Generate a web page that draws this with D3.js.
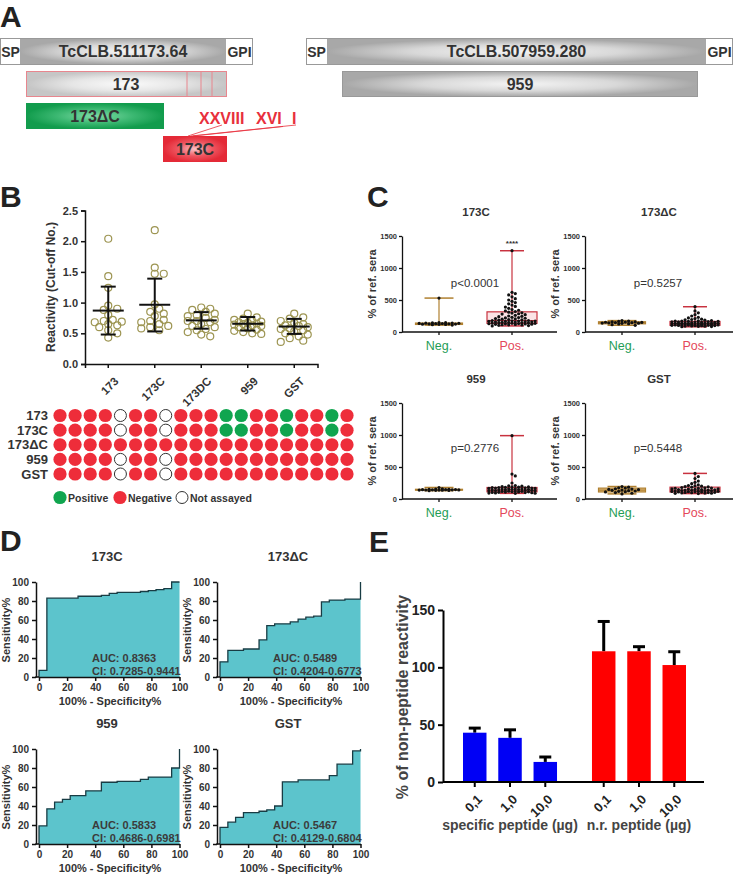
<!DOCTYPE html>
<html><head><meta charset="utf-8">
<script src="https://cdn.jsdelivr.net/npm/d3@7"></script>
<style>body{margin:0;background:#fff}svg{display:block}text{font-family:"Liberation Sans",Arial,Helvetica,sans-serif}</style>
</head><body><svg id="c" width="733" height="874"></svg>
<script>
// ---------------- DATA ----------------
// Panel A
const aProteinNames = ["TcCLB.511173.64", "TcCLB.507959.280"];
const aEnds = ["SP", "GPI"];
const aFragments = ["173", "173ΔC", "173C", "959"];
const aPeptides = ["XXVIII", "XVI", "I"];
// Panel B scatter
const bCategories = ["173", "173C", "173DC", "959", "GST"];
const bValues173 = [2.04, 1.43, 1.24, 0.95, 0.90, 0.88, 0.80, 0.72, 0.70, 0.69, 0.68, 0.65, 0.63, 0.60, 0.55, 0.50, 0.43];
const bValues173C = [2.18, 1.57, 1.47, 1.47, 0.97, 0.90, 0.85, 0.82, 0.78, 0.72, 0.70, 0.68, 0.65, 0.62, 0.60, 0.58, 0.55];
const bValues173DC = [0.92, 0.90, 0.88, 0.85, 0.82, 0.80, 0.78, 0.75, 0.72, 0.70, 0.70, 0.68, 0.65, 0.62, 0.60, 0.57, 0.55, 0.52, 0.48, 0.45];
const bValues959 = [0.82, 0.76, 0.74, 0.72, 0.70, 0.69, 0.68, 0.67, 0.66, 0.65, 0.64, 0.63, 0.62, 0.60, 0.58, 0.56, 0.54, 0.52, 0.50, 0.49];
const bValuesGST = [0.82, 0.76, 0.74, 0.70, 0.67, 0.65, 0.63, 0.62, 0.60, 0.58, 0.57, 0.55, 0.53, 0.50, 0.48, 0.45, 0.42, 0.38, 0.36];
const bMean = [0.87, 0.965, 0.71, 0.655, 0.61];
const bSdHigh = [1.26, 1.39, 0.845, 0.765, 0.735];
const bSdLow = [0.48, 0.53, 0.575, 0.545, 0.49];
const bYTicks = [0, 0.5, 1.0, 1.5, 2.0, 2.5];
// Panel B matrix (P positive, N negative, X not assayed)
const bMatrixRows = ["173", "173C", "173ΔC", "959", "GST"];
const bMatrix = [
  "NNNNXNNXNNNPPNNPNNPN",
  "NNNNXNNXNNNPPNNPNNPN",
  "NNNNNNNNNNNNNNNNNNNN",
  "NNNNXNNXNNNNNNNNNNNN",
  "NNNNXNNXNNNNNNNNNNNN"
];
const bLegend = ["Positive", "Negative", "Not assayed"];
// Panel C
const cTitles = ["173C", "173ΔC", "959", "GST"];
const cPText = ["p<0.0001", "p=0.5257", "p=0.2776", "p=0.5448"];
const cGroups = ["Neg.", "Pos."];
const cYTicks = [0, 500, 1000, 1500];
const cNeg173C = [530,148,145,142,140,138,136,134,132,130,128,126,124,122,120,118,115,108];
const cPos173C = [1270,620,600,580,550,520,500,480,460,440,420,400,390,370,350,340,330,320,310,300,295,285,280,270,260,250,245,240,230,225,220,215,210,205,200,195,190,185,180,178,175,172,170,168,165,162,160,158,155,152,150,148,145,142,140,138,135,132,130,128,125,122,120,118,115,112,110,105,100,95];
const cNeg173DC = [178,170,165,160,158,155,152,150,148,145,142,140,138,135,130,125,115,105];
const cPos173DC = [395,330,300,270,250,230,220,210,200,195,190,185,180,175,172,170,168,165,162,160,158,155,152,150,148,145,142,140,140,138,135,135,132,130,130,128,125,125,122,120,120,118,115,115,112,110,110,108,105,105,102,100,100,98,95,92,90,88,85,82];
const cNeg959 = [180,160,155,152,150,148,146,145,144,143,142,141,140,139,138,136,134,130];
const cPos959 = [990,390,360,250,210,205,200,195,190,188,185,182,180,178,175,172,170,168,165,162,160,158,155,152,150,148,145,142,140,138,135,132,130,128,125,122,120,118,115,112,110,108,105,102,100,98,95,92,90,88];
const cNegGST = [195,185,175,170,160,155,150,145,140,135,130,125,120,115,110,100,90,80];
const cPosGST = [400,350,320,280,260,240,220,210,205,200,195,190,185,180,175,170,168,165,160,158,155,150,148,145,142,140,138,135,132,130,128,125,122,120,118,115,112,110,108,105,102,100,98,95,92,90,88,85];
// box stats: [min, q1, median, q3, max]
const cNegBox = [[108,118,128,140,530],[105,128,145,160,178],[130,138,143,152,180],[80,110,140,170,195]];
const cPosBox = [[95,135,180,315,1270],[82,105,130,165,395],[88,112,140,180,990],[85,110,140,185,400]];
// Panel D ROC curves [100-specificity, sensitivity]
const dTitles = ["173C", "173ΔC", "959", "GST"];
const dAUC = ["AUC: 0.8363", "AUC: 0.5489", "AUC: 0.5833", "AUC: 0.5467"];
const dCI = ["CI: 0.7285-0.9441", "CI: 0.4204-0.6773", "CI: 0.4686-0.6981", "CI: 0.4129-0.6804"];
const dRoc173C = [[0,0],[0,7],[5.6,7],[5.6,83],[27.8,83],[27.8,85],[44.4,85],[44.4,86],[50,86],[50,88],[55.6,88],[55.6,89],[72.2,89],[72.2,90],[77.8,90],[77.8,91],[83.3,91],[83.3,92],[88.9,92],[88.9,93],[94.4,93],[94.4,100],[100,100]];
const dRoc173DC = [[0,0],[0,16],[5.6,16],[5.6,28],[16.7,28],[16.7,29.5],[27.8,29.5],[27.8,39],[33.3,39],[33.3,54],[38.9,54],[38.9,56],[50,56],[50,58],[55.6,58],[55.6,61],[61.1,61],[61.1,63],[66.7,63],[66.7,64],[72.2,64],[72.2,79],[77.8,79],[77.8,81],[88.9,81],[88.9,82],[100,82],[100,100]];
const dRoc959 = [[0,0],[0,19],[5.6,19],[5.6,37],[11.1,37],[11.1,44],[16.7,44],[16.7,47],[22.2,47],[22.2,51],[33.3,51],[33.3,56],[44.4,56],[44.4,65],[55.6,65],[55.6,66],[72.2,66],[72.2,68],[77.8,68],[77.8,70.5],[94.4,70.5],[94.4,80],[100,80],[100,100]];
const dRocGST = [[0,0],[0,17.5],[5.6,17.5],[5.6,23],[11.1,23],[11.1,28],[16.7,28],[16.7,33],[27.8,33],[27.8,34.5],[33.3,34.5],[33.3,36],[38.9,36],[38.9,40],[44.4,40],[44.4,65.5],[55.6,65.5],[55.6,67.5],[77.8,67.5],[77.8,72],[83.3,72],[83.3,84],[94.4,84],[94.4,98],[100,98],[100,100]];
const dTicks = [0, 20, 40, 60, 80, 100];
// Panel E
const eGroups = ["specific peptide (µg)", "n.r. peptide (µg)"];
const eDoses = ["0,1", "1,0", "10,0"];
const eSpecific = [43, 38.5, 17.5];
const eSpecificErr = [4, 7, 4.3];
const eNR = [114, 114, 102];
const eNRErr = [26, 4, 11.6];
const eYTicks = [0, 50, 100, 150];

// ---------------- DRAW ----------------
const svg = d3.select("#c");
svg.append("rect").attr("width", 733).attr("height", 874).attr("fill", "#fff");
const defs = svg.append("defs");
function radial(id, c0, c1, mid) {
  const g = defs.append("radialGradient").attr("id", id).attr("cx", "50%").attr("cy", "50%").attr("r", "50%");
  g.append("stop").attr("offset", "0%").attr("stop-color", c0);
  if (mid) g.append("stop").attr("offset", "55%").attr("stop-color", mid);
  g.append("stop").attr("offset", "100%").attr("stop-color", c1);
}
radial("gGray", "#f4f4f4", "#a8a8a8", "#d8d8d8");
radial("gLight", "#fafafa", "#c6c6c6", "#e6e6e6");
radial("gGreen", "#7fdba6", "#129c4d", "#3cb872");
radial("gRed", "#fbc4c8", "#e42a37", "#ee5560");
const DARK = "#333";

function label(g, x, y, txt, size, opts = {}) {
  return g.append("text").attr("x", x).attr("y", y).text(txt)
    .attr("font-size", size).attr("font-weight", opts.weight || "bold")
    .attr("fill", opts.fill || DARK).attr("text-anchor", opts.anchor || "middle")
    .attr("dominant-baseline", opts.base || "central");
}
function panelLetter(x, y, t) {
  svg.append("text").attr("x", x).attr("y", y).text(t).attr("font-size", 30)
    .attr("font-weight", "bold").attr("fill", "#222");
}
function swarm(values, yScale, r, cx, step, maxOff, overlap) {
  const pts = values.map(v => ({ v, y: yScale(v) })).sort((a, b) => a.y - b.y);
  const placed = [];
  const minD2 = (2 * r * overlap) ** 2;
  const nMax = Math.floor(maxOff / step);
  for (const p of pts) {
    let best = cx, bestD = -1;
    for (let k = 0; k <= 2 * nMax; k++) {
      const off = k === 0 ? 0 : Math.ceil(k / 2) * (k % 2 ? 1 : -1) * step;
      const x = cx + off;
      let md = Infinity;
      for (const q of placed) { const d = (q.x - x) ** 2 + (q.y - p.y) ** 2; if (d < md) md = d; }
      if (md >= minD2) { best = x; break; }
      if (md > bestD) { bestD = md; best = x; }
    }
    p.x = best; placed.push(p);
  }
  return placed;
}

// ===== Panel A =====
panelLetter(0, 27, "A");
const gA = svg.append("g");
function protein(x0, x1, spW, gpiW, name) {
  gA.append("rect").attr("x", x0 + 0.5).attr("y", 38.5).attr("width", x1 - x0 - 1).attr("height", 26)
    .attr("fill", "#fff").attr("stroke", "#999").attr("stroke-width", 1);
  gA.append("rect").attr("x", x0 + spW).attr("y", 39).attr("width", x1 - x0 - spW - gpiW).attr("height", 25).attr("fill", "url(#gGray)");
  label(gA, x0 + 10.5, 51.5, aEnds[0], 14);
  label(gA, x1 - gpiW / 2, 51.5, aEnds[1], 14);
  label(gA, (x0 + spW + x1 - gpiW) / 2, 51.5, name, 16);
}
protein(0, 253, 20, 27, aProteinNames[0]);
protein(306, 733, 21, 27, aProteinNames[1]);
gA.append("rect").attr("x", 26.5).attr("y", 71.5).attr("width", 200).attr("height", 25)
  .attr("fill", "url(#gLight)").attr("stroke", "#e8868e").attr("stroke-width", 1);
[187, 201, 212].forEach(x => gA.append("line").attr("x1", x).attr("x2", x).attr("y1", 72).attr("y2", 96).attr("stroke", "#e8868e"));
label(gA, 126, 84, aFragments[0], 16);
gA.append("rect").attr("x", 26).attr("y", 103).attr("width", 138).attr("height", 26).attr("fill", "url(#gGreen)");
label(gA, 95, 116, aFragments[1], 16);
gA.append("rect").attr("x", 163).attr("y", 136).attr("width", 64).attr("height", 26).attr("fill", "url(#gRed)");
label(gA, 195, 149, aFragments[2], 16);
gA.append("rect").attr("x", 342.5).attr("y", 71.5).attr("width", 355).attr("height", 25)
  .attr("fill", "url(#gGray)").attr("stroke", "#999").attr("stroke-width", 1);
label(gA, 520, 84, aFragments[3], 16);
[199, 256, 292].forEach((x, i) => gA.append("text").attr("x", x).attr("y", 124).attr("font-size", 16)
  .attr("font-weight", "bold").attr("fill", "#e8303c").text(aPeptides[i]));
[[222, 125, 188, 136], [296, 125, 191, 136], [283, 126.5, 193, 136]].forEach(d =>
  gA.append("line").attr("x1", d[0]).attr("y1", d[1]).attr("x2", d[2]).attr("y2", d[3]).attr("stroke", "#e8303c").attr("stroke-width", 0.8));

// ===== Panel B =====
panelLetter(0, 207, "B");
const gB = svg.append("g");
const bY = d3.scaleLinear().domain([0, 2.5]).range([364, 210.5]);
const bX = d3.scaleBand().domain(bCategories).range([85, 317.5]);
gB.append("g").attr("transform", "translate(85,0)")
  .call(d3.axisLeft(bY).tickValues(bYTicks).tickFormat(d3.format(".1f")).tickSizeOuter(0).tickSize(4))
  .call(g => { g.selectAll("text").attr("font-size", 11).attr("font-weight", "bold").attr("fill", DARK); g.selectAll("line,path").attr("stroke", "#111").attr("stroke-width", 1.5); });
gB.append("g").attr("transform", "translate(0,364)")
  .call(d3.axisBottom(bX).tickSizeOuter(0).tickSize(4))
  .call(g => { g.selectAll("line,path").attr("stroke", "#111").attr("stroke-width", 1.5);
    g.selectAll("text").attr("font-size", 11.5).attr("font-weight", "bold").attr("fill", DARK)
      .attr("text-anchor", "end").attr("dy", 0).attr("transform", "translate(6,13) rotate(-45)"); });
gB.append("text").attr("transform", "translate(51,287) rotate(-90)").text("Reactivity (Cut-off No.)")
  .attr("font-size", 12).attr("font-weight", "bold").attr("fill", DARK).attr("text-anchor", "middle").attr("dominant-baseline", "central");
const bAll = [bValues173, bValues173C, bValues173DC, bValues959, bValuesGST];
bCategories.forEach((c, i) => {
  const cx = bX(c) + bX.bandwidth() / 2;
  swarm(bAll[i], bY, 3.6, cx, 4.5, 14, 0.85).forEach(p =>
    gB.append("circle").attr("cx", p.x).attr("cy", p.y).attr("r", 3.5).attr("fill", "none").attr("stroke", "#9d9552").attr("stroke-width", 1.2));
  const eb = gB.append("g").attr("stroke", "#111").attr("stroke-width", 2);
  eb.append("line").attr("x1", cx).attr("x2", cx).attr("y1", bY(bSdLow[i])).attr("y2", bY(bSdHigh[i]));
  eb.append("line").attr("x1", cx - 15.5).attr("x2", cx + 15.5).attr("y1", bY(bMean[i])).attr("y2", bY(bMean[i]));
  [bSdLow[i], bSdHigh[i]].forEach(v => eb.append("line").attr("x1", cx - 7.5).attr("x2", cx + 7.5).attr("y1", bY(v)).attr("y2", bY(v)));
});
const mX = d3.scaleLinear().domain([0, 19]).range([60, 347]);
const mY = d3.scaleLinear().domain([0, 4]).range([415.5, 474]);
const mColor = { P: "#10a54f", N: "#ee2d3a" };
bMatrix.forEach((row, r) => {
  label(gB, 48, mY(r), bMatrixRows[r], 13, { anchor: "end" });
  row.split("").forEach((s, c) => {
    gB.append("circle").attr("cx", mX(c)).attr("cy", mY(r)).attr("r", s === "X" ? 6 : 6.6)
      .attr("fill", s === "X" ? "#fff" : mColor[s]).attr("stroke", s === "X" ? "#333" : "none").attr("stroke-width", 1);
  });
});
[[60, "P"], [120, "N"], [182, "X"]].forEach((d, i) => {
  gB.append("circle").attr("cx", d[0]).attr("cy", 497.5).attr("r", d[1] === "X" ? 6 : 6.6)
    .attr("fill", d[1] === "X" ? "#fff" : mColor[d[1]]).attr("stroke", d[1] === "X" ? "#333" : "none");
  label(gB, d[0] + 8, 498, bLegend[i], 10.5, { anchor: "start" });
});

// ===== Panel C =====
panelLetter(367, 207, "C");
const cNegAll = [cNeg173C, cNeg173DC, cNeg959, cNegGST];
const cPosAll = [cPos173C, cPos173DC, cPos959, cPosGST];
const cOrigins = [[402, 332], [585, 332], [402, 499], [585, 499]];
cTitles.forEach((t, i) => {
  const [ax, ay] = cOrigins[i];
  const g = svg.append("g");
  const y = d3.scaleLinear().domain([0, 1500]).range([ay, ay - 96]);
  const x = d3.scalePoint().domain(cGroups).range([ax + 37, ax + 110]);
  label(g, ax + 74, ay - 120, t, 11.5);
  g.append("g").attr("transform", `translate(${ax},0)`)
    .call(d3.axisLeft(y).tickValues(cYTicks).tickFormat(d3.format("d")).tickSize(3).tickSizeOuter(0))
    .call(a => { a.selectAll("text").attr("font-size", 7.5).attr("font-weight", "bold").attr("fill", DARK).attr("dx", 1);
      a.selectAll("line,path").attr("stroke", "#111").attr("stroke-width", 1.3); });
  g.append("line").attr("x1", ax).attr("x2", Math.min(ax + 155, 733)).attr("y1", ay).attr("y2", ay).attr("stroke", "#111").attr("stroke-width", 1.3);
  cGroups.forEach(gr => g.append("line").attr("x1", x(gr)).attr("x2", x(gr)).attr("y1", ay).attr("y2", ay + 3).attr("stroke", "#111").attr("stroke-width", 1.3));
  label(g, x("Neg."), ay + 14, "Neg.", 12.5, { weight: "normal", fill: "#1f9d57" });
  label(g, x("Pos."), ay + 14, "Pos.", 12.5, { weight: "normal", fill: "#e4485a" });
  g.append("text").attr("transform", `translate(${ax - 30},${ay - 48}) rotate(-90)`).text("% of ref. sera")
    .attr("font-size", 11).attr("font-weight", "bold").attr("fill", DARK).attr("text-anchor", "middle").attr("dominant-baseline", "central");
  label(g, ax + 73, y(i < 2 ? 770 : 800), cPText[i], 11.5, { weight: "normal" });
  const boxes = [[cNegBox[i], x("Neg."), 47, 29, "#e0bd80", "#b08030"], [cPosBox[i], x("Pos."), 50, 24, "#fbe3e5", "#c8323f"]];
  boxes.forEach(([b, cx, bw, cw, fill, stroke]) => {
    g.append("line").attr("x1", cx).attr("x2", cx).attr("y1", y(b[0])).attr("y2", y(b[4])).attr("stroke", stroke).attr("stroke-width", 1.2);
    [b[0], b[4]].forEach(v => g.append("line").attr("x1", cx - cw / 2).attr("x2", cx + cw / 2).attr("y1", y(v)).attr("y2", y(v)).attr("stroke", stroke).attr("stroke-width", 1.5));
    g.append("rect").attr("x", cx - bw / 2).attr("y", y(b[3])).attr("width", bw).attr("height", y(b[1]) - y(b[3]))
      .attr("fill", fill).attr("stroke", stroke).attr("stroke-width", 1.2);
    g.append("line").attr("x1", cx - bw / 2).attr("x2", cx + bw / 2).attr("y1", y(b[2])).attr("y2", y(b[2])).attr("stroke", stroke).attr("stroke-width", 1.2);
  });
  [[cNegAll[i], x("Neg."), 23], [cPosAll[i], x("Pos."), 25]].forEach(([vals, cx, mo]) =>
    swarm(vals, y, 1.7, cx, 3.3, mo, 1).forEach(p => g.append("circle").attr("cx", p.x).attr("cy", p.y).attr("r", 1.6).attr("fill", "#111")));
  if (i === 0) label(g, x("Pos."), y(cPosBox[0][4]) - 7, "****", 8, { weight: "bold" });
});

// ===== Panel D =====
panelLetter(0, 551, "D");
const dRocs = [dRoc173C, dRoc173DC, dRoc959, dRocGST];
const dOrigins = [[39, 677], [220, 677], [39, 844], [220, 844]];
dTitles.forEach((t, i) => {
  const [ox, oy] = dOrigins[i];
  const g = svg.append("g");
  const x = d3.scaleLinear().domain([0, 100]).range([ox, ox + 140.5]);
  const y = d3.scaleLinear().domain([0, 100]).range([oy, oy - 95]);
  label(g, ox + 68, oy - 121, t, 13);
  const area = d3.area().x(d => x(d[0])).y0(y(0)).y1(d => y(d[1]));
  g.append("path").datum(dRocs[i]).attr("d", area).attr("fill", "#5cc4cc");
  g.append("path").datum(dRocs[i]).attr("d", d3.line().x(d => x(d[0])).y(d => y(d[1]))).attr("fill", "none").attr("stroke", "#183c44").attr("stroke-width", 1.3);
  g.append("g").attr("transform", `translate(${ox - 3},0)`)
    .call(d3.axisLeft(y).tickValues(dTicks).tickSize(4).tickSizeOuter(0))
    .call(a => { a.selectAll("text").attr("font-size", 10).attr("font-weight", "bold").attr("fill", DARK);
      a.selectAll("line,path").attr("stroke", "#111").attr("stroke-width", 1.5); });
  g.append("g").attr("transform", `translate(0,${oy})`)
    .call(d3.axisBottom(x).tickValues(dTicks).tickSize(4).tickSizeOuter(0))
    .call(a => { a.selectAll("text").attr("font-size", 10).attr("font-weight", "bold").attr("fill", DARK);
      a.selectAll("line,path").attr("stroke", "#111").attr("stroke-width", 1.5); });
  g.append("line").attr("x1", ox - 3.75).attr("x2", ox).attr("y1", oy).attr("y2", oy).attr("stroke", "#111").attr("stroke-width", 1.5);
  label(g, ox + 71, oy + 24, "100% - Specificity%", 11);
  g.append("text").attr("transform", `translate(${ox - 33},${oy - 47}) rotate(-90)`).text("Sensitivity%")
    .attr("font-size", 11).attr("font-weight", "bold").attr("fill", DARK).attr("text-anchor", "middle").attr("dominant-baseline", "central");
  label(g, ox + 53, oy - 19, dAUC[i], 11, { anchor: "start", fill: "#3b3b3b" });
  label(g, ox + 53, oy - 6, dCI[i], 11, { anchor: "start", fill: "#3b3b3b" });
});

// ===== Panel E =====
panelLetter(369, 552, "E");
const gE = svg.append("g");
const eY = d3.scaleLinear().domain([0, 150]).range([782, 610]);
const eOuter = d3.scaleBand().domain(eGroups).range([463, 686]).paddingInner(0.271);
const eInner = d3.scaleBand().domain(eDoses).range([0, eOuter.bandwidth()]).paddingInner(0.334);
const eData = [[eSpecific, eSpecificErr, "#0000f5"], [eNR, eNRErr, "#ff0000"]];
eGroups.forEach((gr, gi) => {
  const [vals, errs, col] = eData[gi];
  eDoses.forEach((d, di) => {
    const x0 = eOuter(gr) + eInner(d), w = eInner.bandwidth(), cx = x0 + w / 2;
    gE.append("line").attr("x1", cx).attr("x2", cx).attr("y1", eY(vals[di])).attr("y2", eY(vals[di] + errs[di])).attr("stroke", "#000").attr("stroke-width", 3);
    gE.append("line").attr("x1", cx - 6).attr("x2", cx + 6).attr("y1", eY(vals[di] + errs[di])).attr("y2", eY(vals[di] + errs[di])).attr("stroke", "#000").attr("stroke-width", 3);
    gE.append("rect").attr("x", x0).attr("y", eY(vals[di])).attr("width", w).attr("height", eY(0) - eY(vals[di])).attr("fill", col);
    gE.append("line").attr("x1", cx).attr("x2", cx).attr("y1", 782).attr("y2", 787).attr("stroke", "#000").attr("stroke-width", 2);
    gE.append("text").attr("transform", `translate(${cx + 5},${797}) rotate(-45)`).text(d)
      .attr("font-size", 13).attr("font-weight", "bold").attr("fill", "#222").attr("text-anchor", "end").attr("dominant-baseline", "central");
  });
  label(gE, eOuter(gr) + eOuter.bandwidth() / 2, 825, gr, 14, { fill: "#444" });
});
gE.append("g").attr("transform", "translate(443,0)")
  .call(d3.axisLeft(eY).tickValues(eYTicks).tickSize(5).tickSizeOuter(0))
  .call(a => { a.selectAll("text").attr("font-size", 14).attr("font-weight", "bold").attr("fill", "#222");
    a.selectAll("line,path").attr("stroke", "#000").attr("stroke-width", 2); });
gE.append("line").attr("x1", 443).attr("x2", 704).attr("y1", 782).attr("y2", 782).attr("stroke", "#000").attr("stroke-width", 2);
gE.append("text").attr("transform", "translate(402,697) rotate(-90)").text("% of non-peptide reactivity")
  .attr("font-size", 16).attr("font-weight", "bold").attr("fill", "#444").attr("text-anchor", "middle").attr("dominant-baseline", "central");
</script></body></html>
